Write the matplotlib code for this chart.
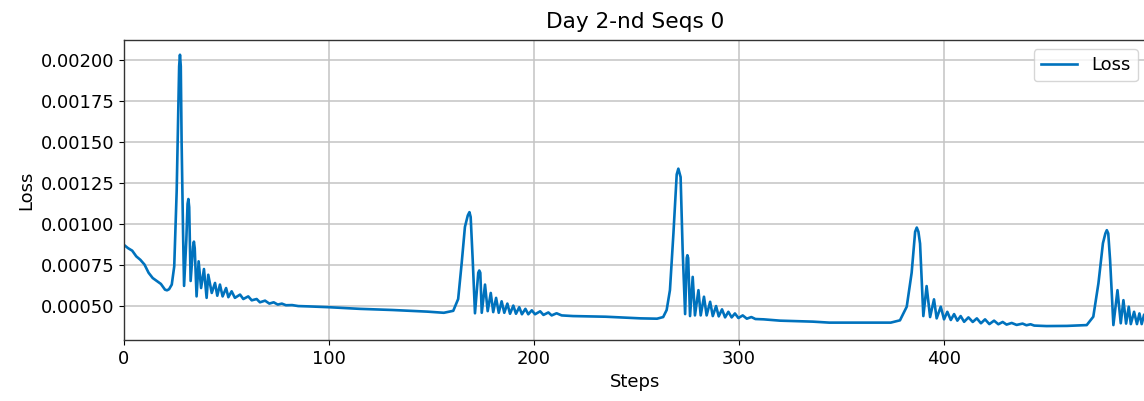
import numpy as np
import matplotlib
matplotlib.use("Agg")
import matplotlib.pyplot as plt

# training loss for the second-day run, sequence 0
steps = [
    0, 2, 4, 6, 8, 10, 12, 14, 16, 18, 20, 21, 22, 23.3, 24.5, 25.7, 26.5, 26.9,
    27.3, 27.7, 28.1, 28.8, 29.3, 30.4, 31.0, 31.4, 31.8, 32.5, 33.7, 34.1, 34.5,
    35.4, 36.4, 37.6, 39.0, 40.3, 41.1, 42.8, 44.4, 45.5, 46.8, 48.1, 49.8, 50.9,
    52.5, 54.1, 56.6, 58.2, 60.6, 62.3, 64.7, 66.3, 68.8, 70.9, 73, 75, 77, 79,
    82, 85, 90, 100, 115, 131, 148, 156,
    160.6, 163, 164.7, 166.3, 167.7, 168.5, 169.1, 170.1, 171.2, 172.8, 173.3,
    173.8, 174.5, 176.1, 177.4, 178.9, 180.1, 181.5, 182.8, 184.2, 185.5, 187.0,
    188.3, 189.9, 191.2, 192.8, 194.1, 195.8, 197.2, 198.9, 200.5, 203, 204.6,
    207, 208.6, 211, 213.5,
    219, 235, 252, 260, 263, 264.7, 266.3, 268, 269.6, 270.4, 271.5, 272.5, 273.7,
    274.5, 274.8, 275.2, 276.1, 277.4, 278.5, 280.2, 281.3, 282.9, 284.2, 285.9,
    287.2, 288.8, 290.1, 291.7, 293.2, 294.8, 296.4, 298, 299.7, 301.8, 303.8,
    306, 308, 312,
    320, 336, 344, 361, 374, 378.5, 381.8, 384.2, 385.9, 386.7, 387.5, 388.3,
    389.9, 391.5, 393.2, 395.1, 396.4, 398.4, 400, 401.6, 403.3, 404.9, 406.5,
    408.1, 409.8, 411.9, 414, 416, 418, 420, 422.1, 424.4, 426.5, 428.6, 430.5,
    433, 435.4, 438.3, 440.2, 442.2, 444, 450, 460, 469.6, 472.8, 475.3, 477.5,
    478.7, 479.4, 480.1, 481, 482.6, 484.6, 486.2, 487.5, 488.8, 490.1, 491.1,
    492.7, 494.1, 495.3, 496.4, 497.6, 498.7, 499.5,
]
loss = [
    0.00087, 0.00085, 0.000835, 0.0008, 0.000779, 0.00075, 0.0007, 0.000668,
    0.00065, 0.000632, 0.000597, 0.000593, 0.0006, 0.000628, 0.000739, 0.0012,
    0.0017, 0.00196, 0.00203, 0.00196, 0.0015, 0.00095, 0.00062, 0.0009,
    0.00112, 0.00115, 0.00110, 0.00065, 0.00086, 0.00089, 0.00085,
    0.000556, 0.00077, 0.000607, 0.000723, 0.000547, 0.000688, 0.000577,
    0.000638, 0.00056, 0.000628, 0.000556, 0.000607, 0.000551, 0.000587,
    0.000547, 0.000567, 0.00054, 0.000556, 0.000532, 0.00054, 0.00052, 0.00053,
    0.000512, 0.00052, 0.000506, 0.000512, 0.000502, 0.000503, 0.000497,
    0.000495, 0.00049, 0.00048, 0.000473, 0.000463, 0.000456,
    0.000468, 0.00054, 0.000757, 0.00098, 0.00105, 0.00107, 0.00104, 0.000777,
    0.000453, 0.0007, 0.000714, 0.0007, 0.000456, 0.000628, 0.000466, 0.000577,
    0.00046, 0.000547, 0.000456, 0.000526, 0.000456, 0.000512, 0.00045, 0.0005,
    0.00045, 0.00049, 0.000447, 0.00048, 0.000447, 0.000471, 0.000447,
    0.000465, 0.000443, 0.000458, 0.00044, 0.000453, 0.00044,
    0.000436, 0.000432, 0.000422, 0.00042, 0.00043, 0.000473, 0.000594, 0.00094,
    0.0013, 0.001335, 0.001284, 0.000838, 0.000448, 0.00079, 0.000807, 0.00079,
    0.000436, 0.000675, 0.00044, 0.000594, 0.00044, 0.000554, 0.00044,
    0.000523, 0.000436, 0.000497, 0.000434, 0.000477, 0.000428, 0.000462,
    0.000428, 0.000452, 0.000424, 0.00044, 0.00042, 0.00043, 0.000418,
    0.000416,
    0.000408, 0.000402, 0.000396, 0.000396, 0.000396, 0.00041, 0.000493, 0.0007,
    0.00095, 0.000976, 0.00095, 0.000878, 0.000436, 0.000619, 0.00043,
    0.000538, 0.000422, 0.000493, 0.000416, 0.000462, 0.000412, 0.000448,
    0.000408, 0.000436, 0.000401, 0.000428, 0.0004, 0.000422, 0.000392,
    0.000416, 0.000387, 0.000408, 0.000386, 0.0004, 0.000384, 0.000394,
    0.000382, 0.00039, 0.00038, 0.000386, 0.000378, 0.000375, 0.000376,
    0.000381, 0.000432, 0.000635, 0.00088, 0.00094, 0.00096, 0.00094, 0.000777,
    0.000381, 0.000594, 0.000392, 0.000533, 0.00039, 0.000493, 0.000387,
    0.000462, 0.000387, 0.000452, 0.000387, 0.000445, 0.000385, 0.00043,
]
x_ticks = [0, 100, 200, 300, 400]
y_ticks = [0.0005, 0.00075, 0.001, 0.00125, 0.0015, 0.00175, 0.002]

plt.rcParams["font.size"] = 13

fig = plt.figure(figsize=(11.44, 4.01), dpi=100)
ax = fig.add_axes([124 / 1144, 61 / 401, 1023 / 1144, 300 / 401])

ax.plot(steps, loss, color="#0072bd", linewidth=1.9, label="Loss",
        solid_joinstyle="round")

ax.set_xlim(0, 499)
ax.set_ylim(0.00029, 0.00212)
ax.set_xticks(x_ticks)
ax.set_yticks(y_ticks)
ax.set_yticklabels([f"{v:.5f}" for v in y_ticks])
ax.grid(True, color="#c4c4c4", linewidth=1.1)
for s in ax.spines.values():
    s.set_linewidth(1.0)
    s.set_color("#333333")

ax.set_xlabel("Steps")
ax.set_ylabel("Loss")
ax.set_title("Day 2-nd Seqs 0", pad=9)
ax.legend(loc="upper right")

fig.savefig("out.png", dpi=100)
